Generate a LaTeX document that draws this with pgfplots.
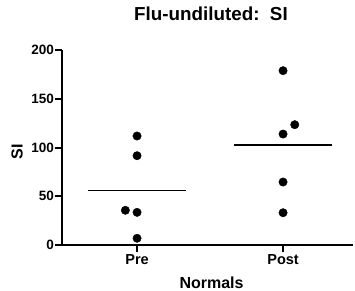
\documentclass[border=0pt]{standalone}
\usepackage{fontspec}
\setmainfont{Liberation Sans}
\usepackage{pgfplots}
\pgfplotsset{compat=1.18}
\begin{document}
\begin{tikzpicture}
\path[use as bounding box] (-62pt,-45pt) rectangle (293pt,245pt);
\begin{axis}[
  scale only axis,
  width=291pt, height=195pt,
  xmin=-0.514, xmax=1.479,
  ymin=0, ymax=200,
  axis lines=left,
  axis line style={line width=2pt, -},
  every tick/.style={line width=2pt, black},
  tick align=outside,
  major tick length=7pt,
  xtick={0,1}, xticklabels={\textbf{Pre},\textbf{Post}},
  ytick={0,50,100,150,200},
  yticklabels={\textbf{0},\textbf{50},\textbf{100},\textbf{150},\textbf{200}},
  yticklabel style={font=\fontsize{13.5}{14}\selectfont\bfseries, inner sep=1pt},
  xticklabel style={font=\fontsize{14.5}{15}\selectfont\bfseries, inner sep=1pt, yshift=-1pt},
  title={Flu-undiluted:\ \ SI},
  title style={font=\fontsize{18.8}{20}\selectfont\bfseries, anchor=base, at={(axis description cs:0.512,1.123)}},
  xlabel={Normals},
  xlabel style={font=\fontsize{16}{17}\selectfont\bfseries, anchor=base, at={(axis description cs:0.514,-0.2205)}},
  ylabel={SI},
  ylabel style={font=\fontsize{16}{17}\selectfont\bfseries, anchor=base, at={(axis description cs:-0.135,0.478)}},
  clip=false,
]
\addplot[only marks, mark=*, mark size=4.2pt, black] coordinates {
  (0,111.8) (0,91.6) (-0.08,35.6) (0,33.5) (0,6.9)
};
\addplot[only marks, mark=*, mark size=4.2pt, black] coordinates {
  (1,178.8) (1.08,123.4) (1,113.8) (1,64.6) (1,33.1)
};
\addplot[black, line width=1.3pt] coordinates {(-0.336,56.1) (0.336,56.1)};
\addplot[black, line width=1.3pt] coordinates {(0.664,102.7) (1.336,102.7)};
\end{axis}
\end{tikzpicture}
\end{document}
